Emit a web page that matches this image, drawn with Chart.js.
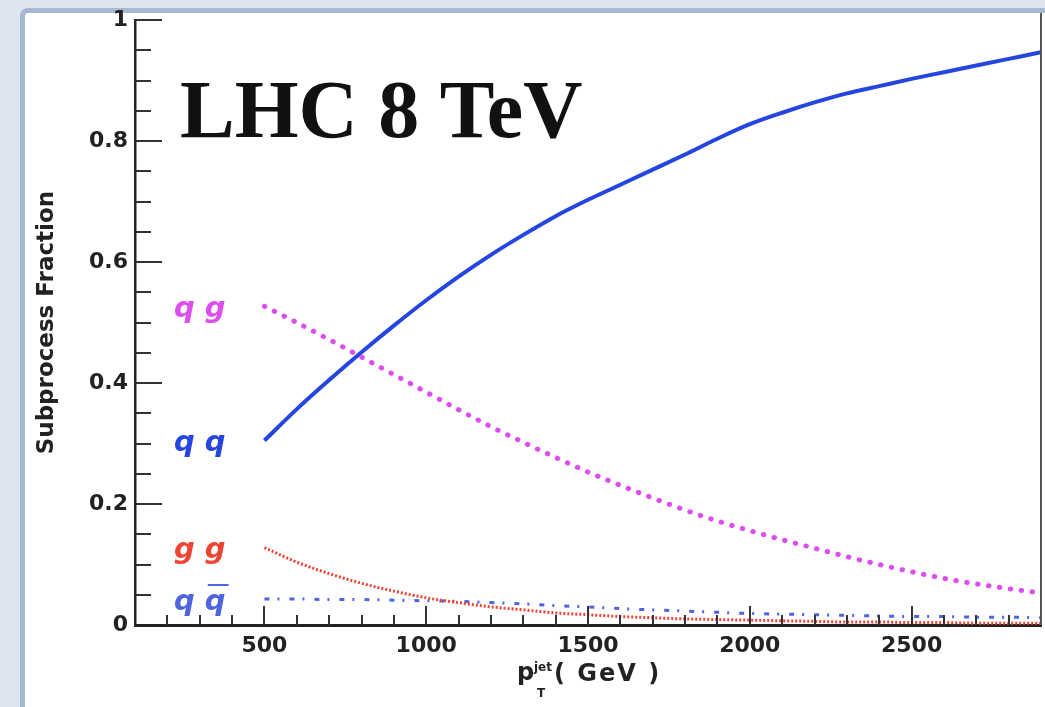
<!DOCTYPE html>
<html>
<head>
<meta charset="utf-8">
<script src="https://cdn.jsdelivr.net/npm/chart.js@4.4.0/dist/chart.umd.min.js"></script>
<style>
  html, body { margin: 0; padding: 0; width: 1045px; height: 707px; overflow: hidden; background: #dce5ef; }
  #panel { position: absolute; left: 20px; top: 8px; width: 1040px; height: 720px; background: #fff;
           border-left: 5px solid #a8b8ce; border-top: 5px solid #a8b8ce; border-top-left-radius: 8px; }
  #wrap { position: absolute; left: 0; top: 0; width: 1045px; height: 707px; }
</style>
</head>
<body>
<div id="panel"></div>
<div id="wrap"><canvas id="fracChart"></canvas></div>
<script>
// jet pT (GeV)
const ptBins = [500, 600, 700, 800, 900, 1000, 1100, 1200, 1300, 1400, 1500, 1600, 1700,
                1800, 1900, 2000, 2100, 2200, 2300, 2400, 2500, 2600, 2700, 2800, 2900];
// subprocess fractions
const qqFrac = [0.305, 0.357, 0.405, 0.451, 0.495, 0.537, 0.576, 0.612, 0.645, 0.676, 0.703, 0.728, 0.753,
                0.778, 0.804, 0.828, 0.847, 0.864, 0.879, 0.891, 0.903, 0.914, 0.925, 0.936, 0.947];
const qgFrac = [0.527, 0.500, 0.472, 0.443, 0.414, 0.385, 0.356, 0.328, 0.302, 0.277, 0.253, 0.231, 0.210,
                0.190, 0.172, 0.156, 0.141, 0.127, 0.113, 0.100, 0.088, 0.077, 0.068, 0.060, 0.053];
const ggFrac = [0.128, 0.104, 0.085, 0.069, 0.056, 0.045, 0.037, 0.030, 0.025, 0.020, 0.017, 0.014, 0.012,
                0.010, 0.009, 0.008, 0.007, 0.006, 0.005, 0.005, 0.004, 0.004, 0.003, 0.003, 0.003];
const qqbarFrac = [0.043, 0.043, 0.042, 0.042, 0.041, 0.040, 0.039, 0.037, 0.035, 0.032, 0.030, 0.027, 0.025,
                   0.023, 0.021, 0.019, 0.018, 0.017, 0.016, 0.015, 0.014, 0.014, 0.013, 0.013, 0.012];

const xTickValues = [500, 1000, 1500, 2000, 2500];
const yTickValues = [0, 0.2, 0.4, 0.6, 0.8, 1];

const seriesNames = ['q g', 'q q', 'g g', 'q q'];
const seriesColors = ['#dd4ef0', '#2545e0', '#ee4433', '#5064e0'];

const toPoints = arr => ptBins.map((x, i) => ({ x: x, y: arr[i] }));

// inward ticks, frame, curve labels, big title, x axis title
const decorations = {
  id: 'decorations',
  afterDatasetsDraw(chart) {
    const { ctx, chartArea: a, scales: { x, y } } = chart;
    ctx.save();
    ctx.strokeStyle = '#333';
    ctx.lineWidth = 2;
    ctx.beginPath();
    for (let i = 1; i <= 20; i++) {
      const py = Math.round(y.getPixelForValue(i * 0.05));
      const len = i % 4 === 0 ? 27 : 16;
      ctx.moveTo(a.left, py); ctx.lineTo(a.left + len, py);
    }
    for (let v = 200; v < 2900; v += 100) {
      const px = Math.round(x.getPixelForValue(v));
      const len = v % 500 === 0 ? 19 : 10;
      ctx.moveTo(px, a.bottom); ctx.lineTo(px, a.bottom - len);
    }
    ctx.stroke();

    // right frame
    ctx.strokeStyle = '#555';
    ctx.beginPath();
    ctx.moveTo(a.right, 13); ctx.lineTo(a.right, a.bottom);
    ctx.stroke();

    // curve labels next to the start of each curve
    const firstVals = [qgFrac[0], qqFrac[0], ggFrac[0], qqbarFrac[0]];
    ctx.font = 'bold italic 29px "DejaVu Sans"';
    ctx.textBaseline = 'middle';
    ctx.textAlign = 'left';
    seriesNames.forEach((name, i) => {
      const w = ctx.measureText(name).width;
      const cx = x.getPixelForValue(300);
      const cy = y.getPixelForValue(firstVals[i]) + 3;
      const sx = cx - w / 2;
      ctx.fillStyle = seriesColors[i];
      ctx.fillText(name, sx, cy);
      if (i === 3) {
        const off = ctx.measureText('q ').width;
        const qw = ctx.measureText('q').width;
        ctx.strokeStyle = seriesColors[i];
        ctx.lineWidth = 2;
        ctx.beginPath();
        ctx.moveTo(sx + off + 3, cy - 17); ctx.lineTo(sx + off + qw + 3, cy - 17);
        ctx.stroke();
      }
    });

    // big title
    ctx.fillStyle = '#111';
    ctx.textBaseline = 'alphabetic';
    ctx.font = 'bold 82px "Liberation Serif"';
    ctx.fillText('LHC 8 TeV', 180, 137);

    // x axis title: p_T^jet ( GeV )
    ctx.fillStyle = '#222';
    ctx.font = 'bold 24px "DejaVu Sans"';
    ctx.fillText('p', 517, 680);
    ctx.font = 'bold 12px "DejaVu Sans"';
    ctx.fillText('jet', 534, 671);
    ctx.fillText('T', 537, 697);
    ctx.font = 'bold 24px "DejaVu Sans"';
    ctx.letterSpacing = '2px';
    ctx.fillText('( GeV )', 554, 681);
    ctx.restore();
  }
};

new Chart(document.getElementById('fracChart'), {
  type: 'line',
  data: {
    datasets: [
      { label: 'qg', data: toPoints(qgFrac), borderColor: seriesColors[0], borderWidth: 5,
        borderDash: [0.5, 10.5], borderCapStyle: 'round' },
      { label: 'gg', data: toPoints(ggFrac), borderColor: seriesColors[2], borderWidth: 3,
        borderDash: [2, 2] },
      { label: 'qqbar', data: toPoints(qqbarFrac), borderColor: seriesColors[3], borderWidth: 3,
        borderDash: [5, 8, 2, 10] },
      { label: 'qq', data: toPoints(qqFrac), borderColor: seriesColors[1], borderWidth: 4 }
    ]
  },
  options: {
    responsive: true,
    maintainAspectRatio: false,
    animation: false,
    layout: { padding: { left: 29, top: 20, right: 4, bottom: 0 } },
    elements: {
      point: { radius: 0 },
      line: { tension: 0.4, cubicInterpolationMode: 'monotone', fill: false }
    },
    plugins: { legend: { display: false }, tooltip: { enabled: false } },
    scales: {
      x: {
        type: 'linear',
        min: 100,
        max: 2900,
        afterFit: s => { s.height = 82; },
        afterBuildTicks: s => { s.ticks = xTickValues.map(v => ({ value: v })); },
        grid: { drawOnChartArea: false, drawTicks: false },
        border: { display: true, color: '#222', width: 3 },
        ticks: {
          autoSkip: false,
          maxRotation: 0,
          padding: 8,
          color: '#222',
          font: { family: 'DejaVu Sans', weight: 'bold', size: 22 },
          callback: v => String(v)
        }
      },
      y: {
        min: 0,
        max: 1,
        afterFit: s => { s.width = 106; },
        afterBuildTicks: s => { s.ticks = yTickValues.map(v => ({ value: v })); },
        grid: { drawOnChartArea: false, drawTicks: false },
        border: { display: true, color: '#222', width: 2.5 },
        title: {
          display: true,
          text: 'Subprocess Fraction',
          color: '#222',
          font: { family: 'DejaVu Sans', weight: 'bold', size: 23 }
        },
        ticks: {
          padding: 7,
          color: '#222',
          font: { family: 'DejaVu Sans', weight: 'bold', size: 22 },
          callback: v => String(+v.toFixed(1))
        }
      }
    }
  },
  plugins: [decorations]
});
</script>
</body>
</html>
